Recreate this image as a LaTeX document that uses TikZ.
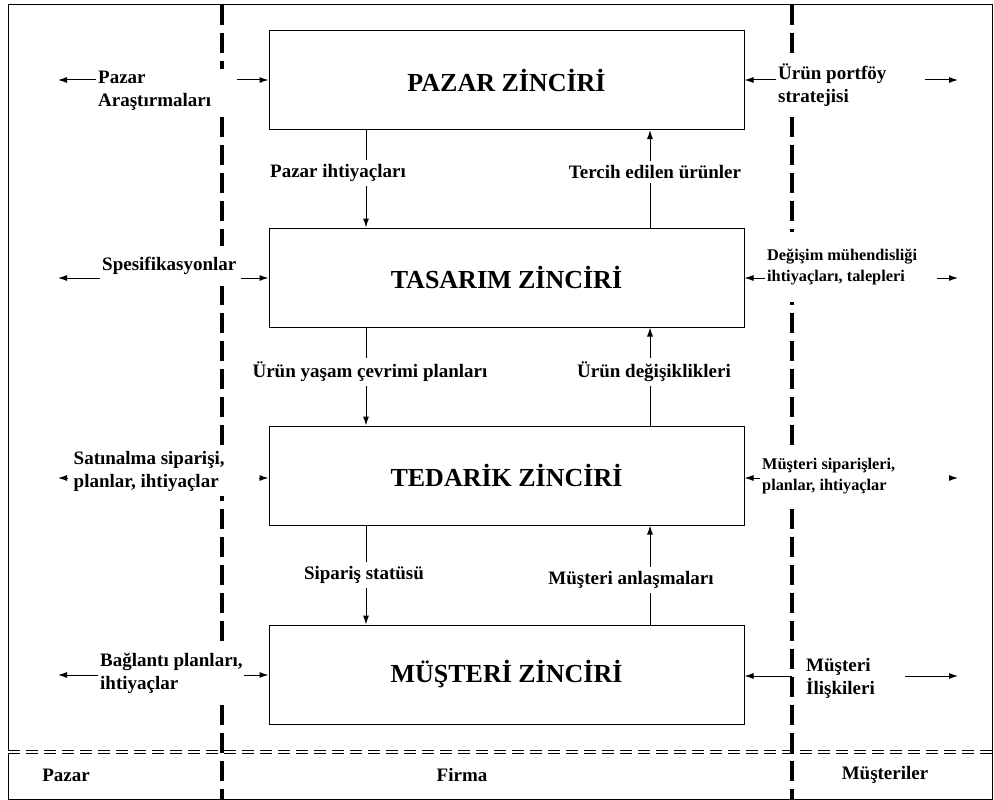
\documentclass[tikz,border=0pt]{standalone}
\usepackage{fontspec}
\setmainfont{Liberation Serif}
\usetikzlibrary{arrows.meta, positioning}

\begin{document}
\begin{tikzpicture}[
    x=1pt, y=-1pt,
    chainbox/.style={draw, line width=1pt, minimum width=475pt, minimum height=99pt, font=\fontsize{26}{30}\selectfont\bfseries},
    lbl/.style={fill=white, inner sep=2pt, align=left, font=\fontsize{19}{23}\selectfont\bfseries},
    small/.style={lbl, font=\fontsize{16.3}{21}\selectfont\bfseries},
    mid/.style={fill=white, inner sep=4pt, font=\fontsize{19}{23}\selectfont\bfseries},
    zone/.style={font=\fontsize{19}{23}\selectfont\bfseries},
    flow/.style={-{Latex[length=9pt, width=6pt]}, line width=1pt},
    border/.style={line width=3.2pt, dash pattern=on 20pt off 8pt},
    split/.style={double, line width=1pt, double distance=2.4pt, dash pattern=on 12pt off 6pt}
]
\useasboundingbox (0,0) rectangle (994,800);
\draw[line width=1pt] (8,5) rectangle (992,799);
\draw[split] (8,752) -- (992,752);
\draw[border] (222,5) -- (222,799);
\draw[border] (792,5) -- (792,799);

% the four chains
\node[chainbox] (pazar) at (506.5,80) {PAZAR ZİNCİRİ};
\node[chainbox] (tasarim) at (506.5,277.5) {TASARIM ZİNCİRİ};
\node[chainbox] (tedarik) at (506.5,475.5) {TEDARİK ZİNCİRİ};
\node[chainbox] (musteri) at (506.5,674.5) {MÜŞTERİ ZİNCİRİ};

% flows between the chains
\coordinate (dn) at (366,0);
\coordinate (up) at (650,0);
\draw[flow] (pazar.south -| dn) -- (tasarim.north -| dn);
\draw[flow] (tasarim.north -| up) -- (pazar.south -| up);
\draw[flow] (tasarim.south -| dn) -- (tedarik.north -| dn);
\draw[flow] (tedarik.north -| up) -- (tasarim.south -| up);
\draw[flow] (tedarik.south -| dn) -- (musteri.north -| dn);
\draw[flow] (musteri.north -| up) -- (tedarik.south -| up);

\node[mid] (mpi) at (338,173) {Pazar ihtiyaçları};
\node[mid] (mte) at (655,172) {Tercih edilen ürünler};
\node[mid] (mur) at (370,372) {Ürün yaşam çevrimi planları};
\node[mid] (mud) at (654,372) {Ürün değişiklikleri};
\node[mid] (mss) at (364,575) {Sipariş statüsü};
\node[mid] (mma) at (631,580) {Müşteri anlaşmaları};

% market side
\node[lbl, anchor=west, text width=126pt] (lpa) at (96,91) {Pazar\\Araştırmaları};
\node[lbl, anchor=west, minimum height=40pt] (lsp) at (100,266) {Spesifikasyonlar};
\node[lbl, anchor=west, minimum height=50pt, minimum width=162pt] (lsa) at (68,471) {Satınalma siparişi,\\planlar, ihtiyaçlar};
\node[lbl, anchor=west, minimum height=56pt] (lba) at (98,673) {Bağlantı planları,\\ihtiyaçlar};

\coordinate (lpa-o) at (58,80);
\coordinate (lpa-i) at (237,80);
\draw[flow] (lpa.west |- lpa-o) -- (lpa-o);
\draw[flow] (lpa-i) -- (pazar.west |- lpa-i);
\coordinate (lsp-o) at (58,278);
\coordinate (lsp-i) at (241,278);
\draw[flow] (lsp.west |- lsp-o) -- (lsp-o);
\draw[flow] (lsp-i) -- (tasarim.west |- lsp-i);
\coordinate (lsa-o) at (58,478);
\coordinate (lsa-i) at (259,478);
\draw[flow] (lsa.west |- lsa-o) -- (lsa-o);
\draw[flow] (lsa-i) -- (tedarik.west |- lsa-i);
\coordinate (lba-o) at (58,675);
\coordinate (lba-i) at (244,675);
\draw[flow] (lba.west |- lba-o) -- (lba-o);
\draw[flow] (lba-i) -- (musteri.west |- lba-i);

% customer side
\node[lbl, anchor=west, minimum height=56pt] (rpo) at (776,85) {Ürün portföy\\stratejisi};
\node[small, anchor=west, minimum height=70pt] (rde) at (765,267) {Değişim mühendisliği\\ihtiyaçları, talepleri};
\node[small, anchor=west, minimum height=56pt] (rms) at (760,476) {Müşteri siparişleri,\\planlar, ihtiyaçlar};
\node[lbl, anchor=west, fill=none] (rmi) at (804,678) {Müşteri\\İlişkileri};

\coordinate (rpo-a) at (925,80);
\coordinate (rpo-b) at (958,80);
\draw[flow] (rpo.west |- rpo-a) -- (pazar.east |- rpo-a);
\draw[flow] (rpo-a) -- (rpo-b);
\coordinate (rde-a) at (937,278);
\coordinate (rde-b) at (958,278);
\draw[flow] (rde.west |- rde-a) -- (tasarim.east |- rde-a);
\draw[flow] (rde-a) -- (rde-b);
\coordinate (rms-a) at (950,478);
\coordinate (rms-b) at (958,478);
\draw[flow] (rms.west |- rms-a) -- (tedarik.east |- rms-a);
\draw[flow] (rms-a) -- (rms-b);
\coordinate (rmi-a) at (905,676);
\coordinate (rmi-b) at (958,676);
\coordinate (rmi-c) at (792,676);
\draw[flow] (rmi-c) -- (musteri.east |- rmi-c);
\draw[flow] (rmi-a) -- (rmi-b);

% zones
\node[zone] (zpazar) at (66,775) {Pazar};
\node[zone] (zfirma) at (462,775) {Firma};
\node[zone] (zmust) at (885,775) {Müşteriler};
\end{tikzpicture}
\end{document}
